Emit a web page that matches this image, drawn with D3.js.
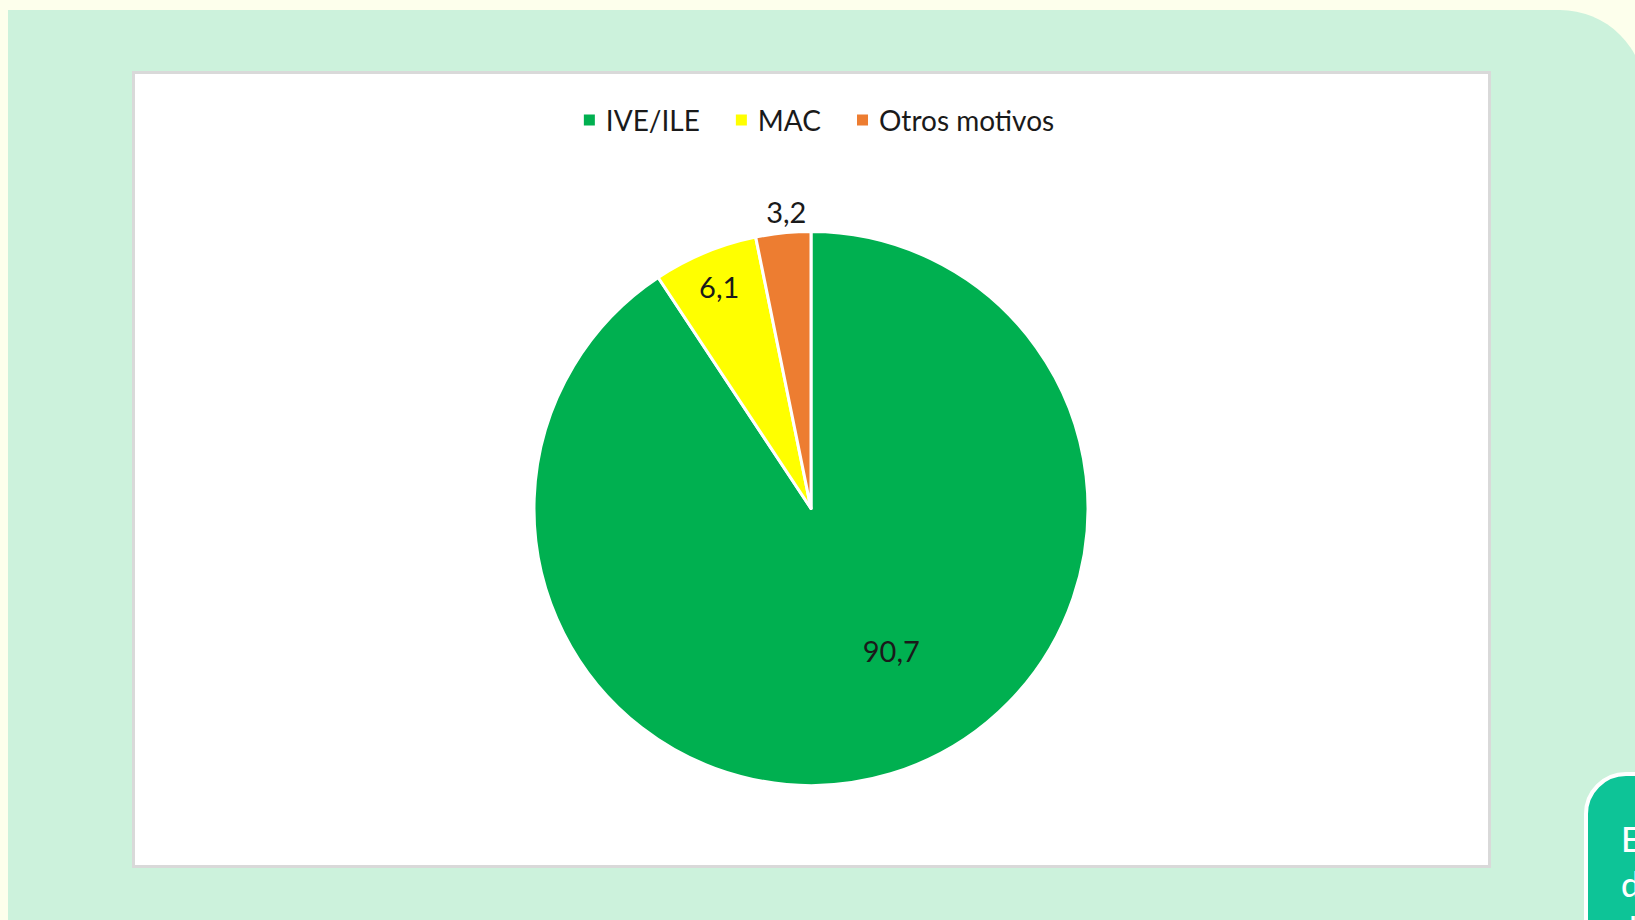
<!DOCTYPE html>
<html>
<head>
<meta charset="utf-8">
<script src="https://cdn.jsdelivr.net/npm/d3@7"></script>
<style>
  html, body { margin: 0; padding: 0; background: #FDFFEC; overflow: hidden; }
  svg { display: block; }
  text { font-family: Lato, "Open Sans", sans-serif; }
</style>
</head>
<body>
<svg id="chart" width="1635" height="920"></svg>
<script>
// Motivo de consulta (%)
const categories = ["IVE/ILE", "MAC", "Otros motivos"];
const values = [90.7, 6.1, 3.2];
const labels = ["90,7", "6,1", "3,2"];
const colors = ["#00B050", "#FFFF00", "#ED7D31"];

// Label placement: radius factor and angular shift (degrees) per slice
const labelRadius = [0.59, 0.866, 1.075];
const labelShift = [-12.7, 0, 1];

const W = 1635, H = 920;
const svg = d3.select("#chart");

// page background
svg.append("rect").attr("width", W).attr("height", H).attr("fill", "#FDFFEC");

// mint panel with rounded top-right corner
const px = 8, py = 10, pr = 1645, R = 85;
svg.append("path")
  .attr("d", `M${px},${py} H${pr - R} A${R},${R} 0 0 1 ${pr},${py + R} V${H + 20} H${px} Z`)
  .attr("fill", "#CCF2DC");

// chart area frame
const box = { x: 133.5, y: 72.5, w: 1356, h: 794 };
svg.append("rect")
  .attr("x", box.x).attr("y", box.y).attr("width", box.w).attr("height", box.h)
  .attr("fill", "#FFFFFF").attr("stroke", "#D9D9D9").attr("stroke-width", 3);

// pie
const cx = 811, cy = 508.5, radius = 277;
const pie = d3.pie().sort(null).value(d => d)(values);
const arc = d3.arc().innerRadius(0).outerRadius(radius);

const g = svg.append("g").attr("transform", `translate(${cx},${cy})`);
g.selectAll("path.slice")
  .data(pie)
  .join("path")
  .attr("class", "slice")
  .attr("d", arc)
  .attr("fill", (d, i) => colors[i])
  .attr("stroke", "#FFFFFF")
  .attr("stroke-width", 3)
  .attr("stroke-linejoin", "round");

// data labels
g.selectAll("text.lbl")
  .data(pie)
  .join("text")
  .attr("class", "lbl")
  .attr("x", (d, i) => {
    const a = (d.startAngle + d.endAngle) / 2 + labelShift[i] * Math.PI / 180;
    return Math.sin(a) * radius * labelRadius[i];
  })
  .attr("y", (d, i) => {
    const a = (d.startAngle + d.endAngle) / 2 + labelShift[i] * Math.PI / 180;
    return -Math.cos(a) * radius * labelRadius[i];
  })
  .attr("text-anchor", "middle")
  .attr("dominant-baseline", "central")
  .attr("font-size", 29)
  .attr("fill", "#1A1A1A")
  .text((d, i) => labels[i]);

// legend
const legend = svg.append("g");
const items = legend.selectAll("g.item").data(categories).join("g").attr("class", "item");
items.append("rect")
  .attr("width", 11).attr("height", 11)
  .attr("y", -5.5)
  .attr("fill", (d, i) => colors[i]);
items.append("text")
  .attr("x", 22)
  .attr("y", 0)
  .attr("dominant-baseline", "central")
  .attr("font-size", 28)
  .attr("fill", "#1A1A1A")
  .text(d => d);
let off = 0;
const gap = 36;
items.each(function () {
  const w = 22 + this.querySelector("text").getComputedTextLength();
  d3.select(this).attr("transform", `translate(${off},0)`);
  off += w + gap;
});
const legendW = off - gap;
legend.attr("transform", `translate(${819 - legendW / 2},120)`);

// side button
svg.append("rect")
  .attr("x", 1586).attr("y", 774).attr("width", 120).attr("height", 220)
  .attr("rx", 40)
  .attr("fill", "#0DC497").attr("stroke", "#FFFFFF").attr("stroke-width", 4);
const btn = svg.append("text")
  .attr("font-family", "Roboto, sans-serif")
  .attr("font-weight", 500)
  .attr("font-size", 34)
  .attr("fill", "#FFFFFF");
btn.append("tspan").attr("x", 1621).attr("y", 852).text("En");
btn.append("tspan").attr("x", 1621).attr("y", 897).text("de");
btn.append("tspan").attr("x", 1629).attr("y", 942).text("la");
</script>
</body>
</html>
